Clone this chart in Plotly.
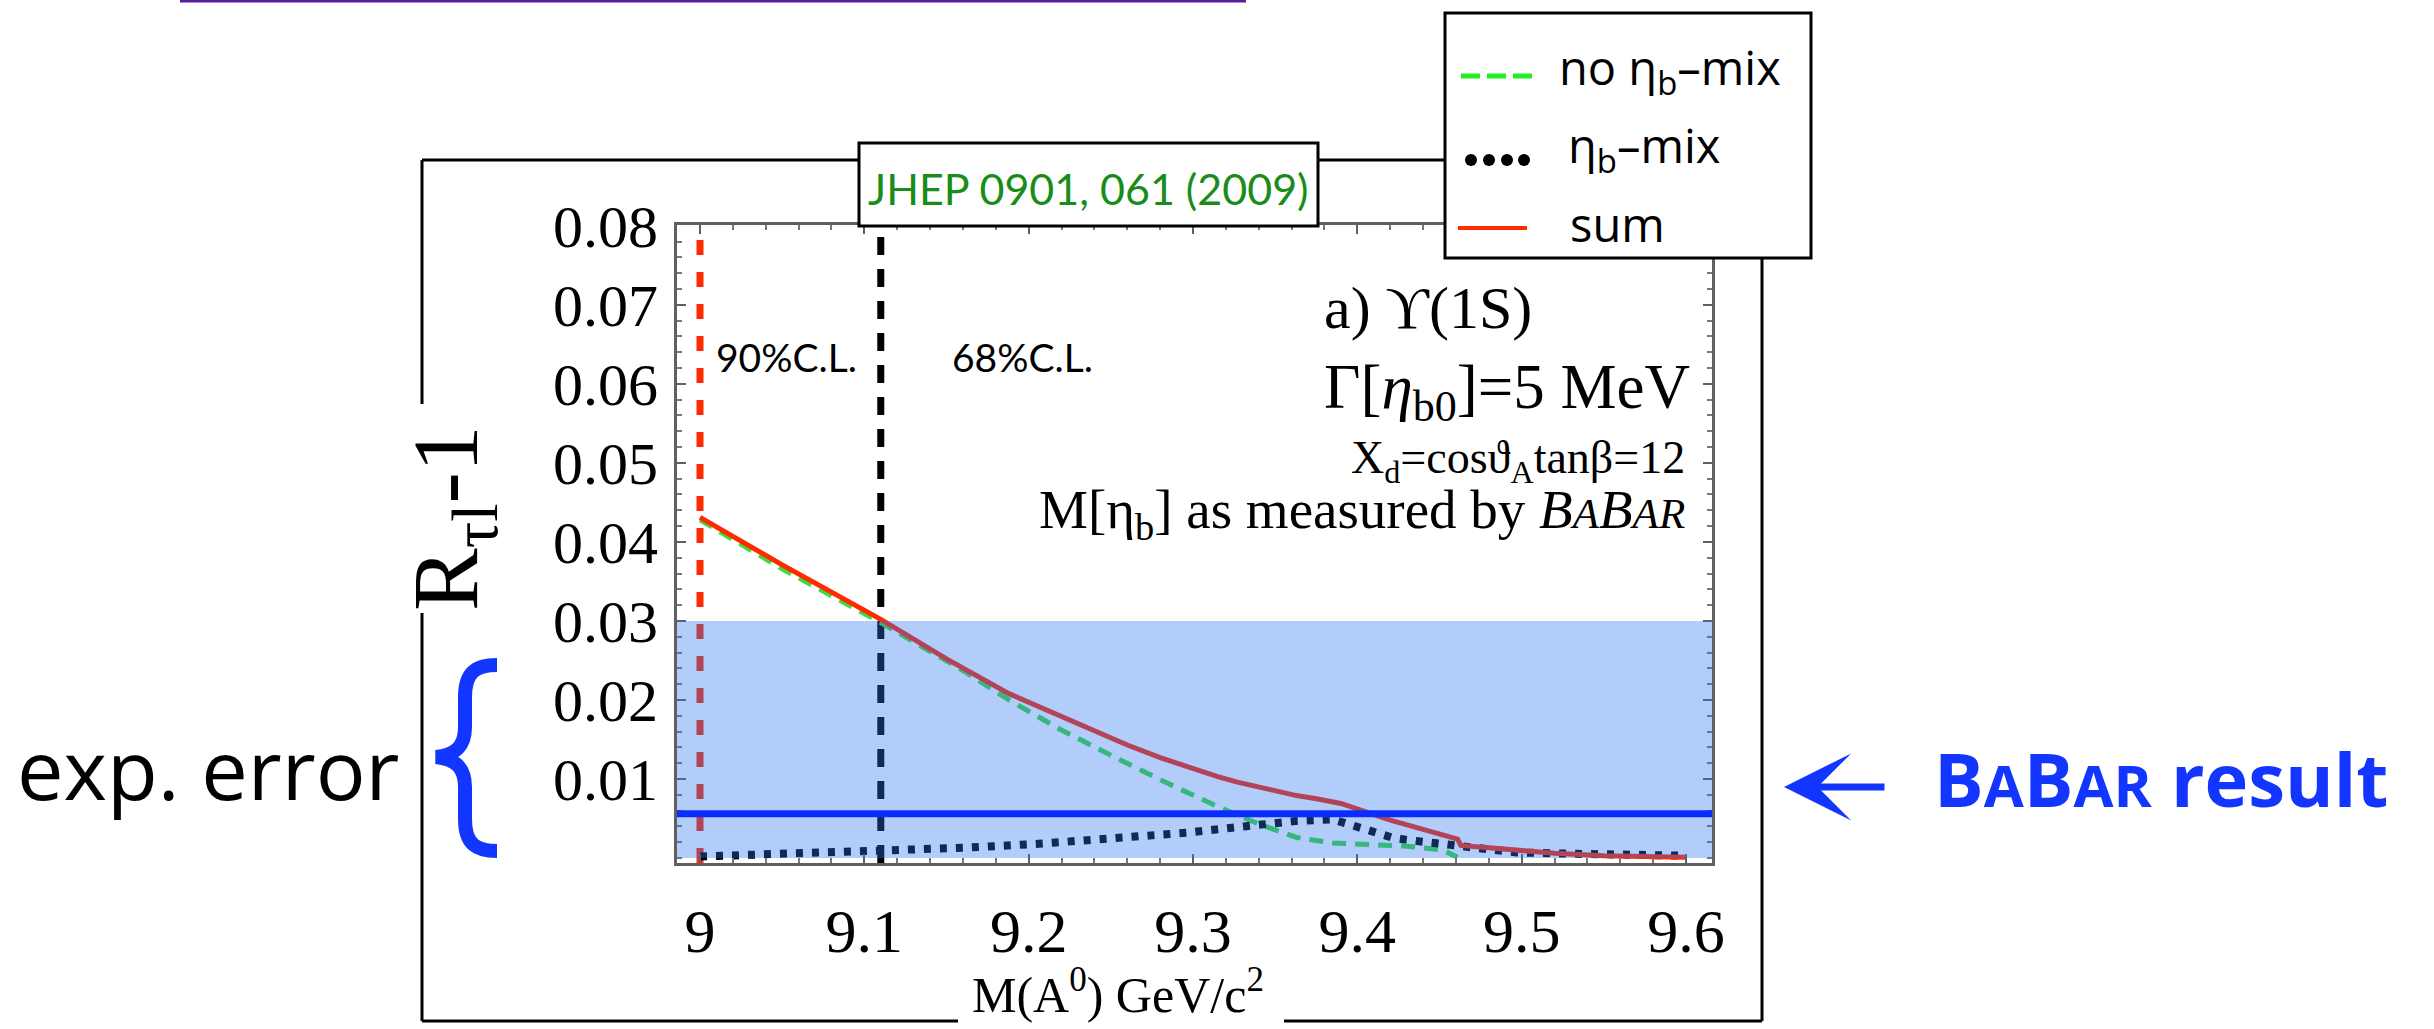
import plotly.graph_objects as go

# ---------------------------------------------------------------- data ----
# R_tau/l - 1 versus the CP-odd Higgs mass M(A0) [GeV/c^2]
mass_sum = [9.000, 9.050, 9.110, 9.150, 9.188, 9.210, 9.228, 9.245, 9.260, 9.280,
            9.300, 9.315, 9.327, 9.345, 9.363, 9.375, 9.390, 9.420, 9.461, 9.463,
            9.497, 9.520, 9.550, 9.600]
r_sum = [0.0431, 0.0371, 0.0302, 0.0252, 0.0208, 0.0188, 0.0171, 0.0156, 0.0143, 0.0127,
         0.0113, 0.0103, 0.0096, 0.0087, 0.0079, 0.0075, 0.0069, 0.0048, 0.0024, 0.0016,
         0.0010, 0.0006, 0.0003, 0.0001]

mass_nomix = [9.000, 9.050, 9.110, 9.130, 9.161, 9.188, 9.219, 9.251, 9.282,
              9.313, 9.340, 9.363, 9.385, 9.408, 9.430, 9.452, 9.461]
r_nomix = [0.0428, 0.0366, 0.0298, 0.0274, 0.0236, 0.0200, 0.0163, 0.0129, 0.0097,
           0.0067, 0.0043, 0.0026, 0.0019, 0.0017, 0.0015, 0.0010, 0.0001]

mass_mix = [9.000, 9.050, 9.110, 9.161, 9.206, 9.251, 9.296, 9.331, 9.363, 9.385,
            9.394, 9.403, 9.412, 9.421, 9.430, 9.441, 9.452, 9.475, 9.497, 9.542, 9.600]
r_mix = [0.0002, 0.0005, 0.0009, 0.0013, 0.0018, 0.0024, 0.0032, 0.0040, 0.0047, 0.0049,
         0.0043, 0.0037, 0.0030, 0.0026, 0.0023, 0.0020, 0.0018, 0.0012, 0.0007, 0.0005, 0.0003]

cl_mass = [9.000, 9.110]          # 90% and 68% C.L. exclusion edges
cl_labels = ["90%C.L.", "68%C.L."]
babar_central = 0.0056            # measured R_tau/mu - 1
babar_band = [0.0, 0.03]          # experimental uncertainty band

x_ticks = [9.0, 9.1, 9.2, 9.3, 9.4, 9.5, 9.6]
x_ticktext = ["9", "9.1", "9.2", "9.3", "9.4", "9.5", "9.6"]
y_ticks = [0.01, 0.02, 0.03, 0.04, 0.05, 0.06, 0.07, 0.08]
y_ticktext = ["0.01", "0.02", "0.03", "0.04", "0.05", "0.06", "0.07", "0.08"]

# ------------------------------------------------------------- layout ----
W, H = 2434, 1029
L, R, T, B = 677, 1712, 225, 863   # plot area in pixels


def px(x):
    return (x - L) / (R - L)


def py(y):
    return (B - y) / (B - T)


def P(x, y):
    return f"{px(x):.5f},{py(y):.5f}"


SERIF = "Liberation Serif, DejaVu Serif, serif"
GILL = "Lato, Open Sans, sans-serif"
HAND = "Open Sans, DejaVu Sans, sans-serif"
BLUE = "#1236ff"
RED = "#ff2a00"

fig = go.Figure()

fig.add_trace(go.Scatter(x=mass_nomix, y=r_nomix, mode="lines", name="no ηb-mix",
                         line=dict(color="#3ddc3d", width=5, dash="14px,9px")))
fig.add_trace(go.Scatter(x=mass_mix, y=r_mix, mode="lines", name="ηb-mix",
                         line=dict(color="#000000", width=8, dash="7px,9px")))
fig.add_trace(go.Scatter(x=mass_sum, y=r_sum, mode="lines", name="sum",
                         line=dict(color=RED, width=5)))

shapes = []
# confidence-level mass limits
for m, col, dash in zip(cl_mass, [RED, "#000000"], ["15px,17px", "18px,14px"]):
    shapes.append(dict(type="line", xref="x", yref="y domain", x0=m, x1=m, y0=0, y1=1,
                       line=dict(color=col, width=7, dash=dash), layer="below"))

# experimental band and central value (semi-transparent, over the curves)
shapes.append(dict(type="rect", xref="x domain", yref="y", x0=0, x1=1,
                   y0=babar_band[0], y1=babar_band[1],
                   fillcolor="rgba(44,117,242,0.36)", line=dict(width=0), layer="above"))
shapes.append(dict(type="line", xref="x domain", yref="y", x0=0, x1=1,
                   y0=babar_central, y1=babar_central,
                   line=dict(color="#0a2cff", width=7), layer="above"))


def seg(x0, y0, x1, y1, color="#000000", width=3, dash=None):
    ln = dict(color=color, width=width)
    if dash:
        ln["dash"] = dash
    return dict(type="line", xref="paper", yref="paper",
                x0=px(x0), y0=py(y0), x1=px(x1), y1=py(y1), line=ln, layer="above")


# outer frame with gaps for titles and boxes
shapes += [
    seg(422, 160, 859, 160), seg(1318, 160, 1445, 160),
    seg(422, 160, 422, 404), seg(422, 613, 422, 1021),
    seg(422, 1021, 958, 1021), seg(1284, 1021, 1762, 1021),
    seg(1762, 258, 1762, 1021),
    seg(180, 1, 1246, 1, color="#5a1b9c", width=3),
]

# reference box and legend box
shapes.append(dict(type="rect", xref="paper", yref="paper",
                   x0=px(859), x1=px(1318), y0=py(226), y1=py(143),
                   fillcolor="white", line=dict(color="black", width=3), layer="above"))
shapes.append(dict(type="rect", xref="paper", yref="paper",
                   x0=px(1445), x1=px(1811), y0=py(258), y1=py(13),
                   fillcolor="white", line=dict(color="black", width=3), layer="above"))

# legend samples
shapes.append(seg(1461, 76, 1532, 76, color="#22ee22", width=5, dash="19px,7px"))
for cx in [1471, 1489, 1507, 1524]:
    shapes.append(dict(type="circle", xref="paper", yref="paper",
                       x0=px(cx - 6), x1=px(cx + 6), y0=py(166), y1=py(154),
                       fillcolor="black", line=dict(width=0), layer="above"))
shapes.append(seg(1458, 228, 1527, 228, color=RED, width=4))

# curly brace marking the experimental error
brace = ("M" + P(497, 665) + " C" + P(476, 665) + " " + P(465, 672) + " " + P(465, 697) +
         " L" + P(465, 727) + " C" + P(465, 746) + " " + P(456, 755) + " " + P(436, 757) +
         " C" + P(456, 759) + " " + P(465, 768) + " " + P(465, 787) +
         " L" + P(465, 819) + " C" + P(465, 844) + " " + P(476, 851) + " " + P(497, 851))
shapes.append(dict(type="path", xref="paper", yref="paper", path=brace,
                   line=dict(color=BLUE, width=14), fillcolor="rgba(0,0,0,0)", layer="above"))


def note(text, x, y, size, family=SERIF, color="black", xanchor="center",
         yanchor="middle", **kw):
    return dict(text=text, x=px(x), y=py(y), xref="paper", yref="paper",
                xanchor=xanchor, yanchor=yanchor, showarrow=False,
                font=dict(size=size, family=family, color=color), **kw)


sc = "<span style='font-size:43px'>"
annotations = [
    note("R<sub>τl</sub>-1", 452, 518, 94, textangle=-90),
    note("M(A<sup>0</sup>) GeV/c<sup>2</sup>", 1118, 991, 50),
    note(cl_labels[0], 714, 357, 39, family=GILL, xanchor="left"),
    note(cl_labels[1], 950, 357, 39, family=GILL, xanchor="left"),
    note("a) ϒ(1S)", 1322, 308, 60, xanchor="left"),
    note("Γ[<i>η</i><sub>b0</sub>]=5 MeV", 1322, 391, 63, xanchor="left"),
    note("X<sub>d</sub>=cosϑ<sub>A</sub>tanβ=12", 1687, 461, 46, xanchor="right"),
    note("M[η<sub>b</sub>] as measured by <i>B" + sc + "A</span>B" + sc + "AR</span></i>",
         1687, 513, 55, xanchor="right"),
    note("JHEP 0901, 061 (2009)", 1088, 188, 43, family=GILL, color="#1a8c1a"),
    note("no η<sub>b</sub>–mix", 1557, 70, 47, family=HAND, xanchor="left"),
    note("η<sub>b</sub>–mix", 1566, 148, 47, family=HAND, xanchor="left"),
    note("sum", 1568, 224, 47, family=HAND, xanchor="left"),
    note("exp. error", 15, 767, 83, family=HAND, xanchor="left"),
    note("<b>B<span style='font-size:58px'>A</span>B<span style='font-size:58px'>AR</span>"
         " result</b>", 1932, 778, 74, family=HAND, color=BLUE, xanchor="left"),
    dict(text="", x=px(1784), y=py(787), xref="paper", yref="paper",
         showarrow=True, ax=102, ay=0, arrowhead=3, arrowsize=1.6,
         arrowwidth=7, arrowcolor=BLUE, standoff=0),
]

axis_common = dict(
    showline=True, linecolor="#606060", linewidth=3, mirror="ticks",
    ticks="inside", ticklen=9, tickwidth=2, tickcolor="#606060",
    showgrid=False, zeroline=False, tickmode="array",
    tickfont=dict(family=SERIF, size=62, color="black"),
)

fig.update_layout(
    width=W, height=H, autosize=False,
    margin=dict(l=L, r=W - R, t=T, b=H - B, pad=0),
    paper_bgcolor="white", plot_bgcolor="white",
    showlegend=False,
    xaxis=dict(axis_common, range=[8.986, 9.6158], tickvals=x_ticks, ticktext=x_ticktext,
               ticklabelstandoff=12,
               minor=dict(ticks="inside", ticklen=5, tickwidth=1.5, tickcolor="#777777",
                          tick0=9.0, dtick=0.02, showgrid=False)),
    yaxis=dict(axis_common, range=[-0.00063, 0.0801], tickvals=y_ticks, ticktext=y_ticktext,
               ticklabelstandoff=4, tickfont=dict(family=SERIF, size=60, color="black"),
               minor=dict(ticks="inside", ticklen=5, tickwidth=1.5, tickcolor="#777777",
                          tick0=0, dtick=0.002, showgrid=False)),
    shapes=shapes,
    annotations=annotations,
)

fig.write_html("out.html")
